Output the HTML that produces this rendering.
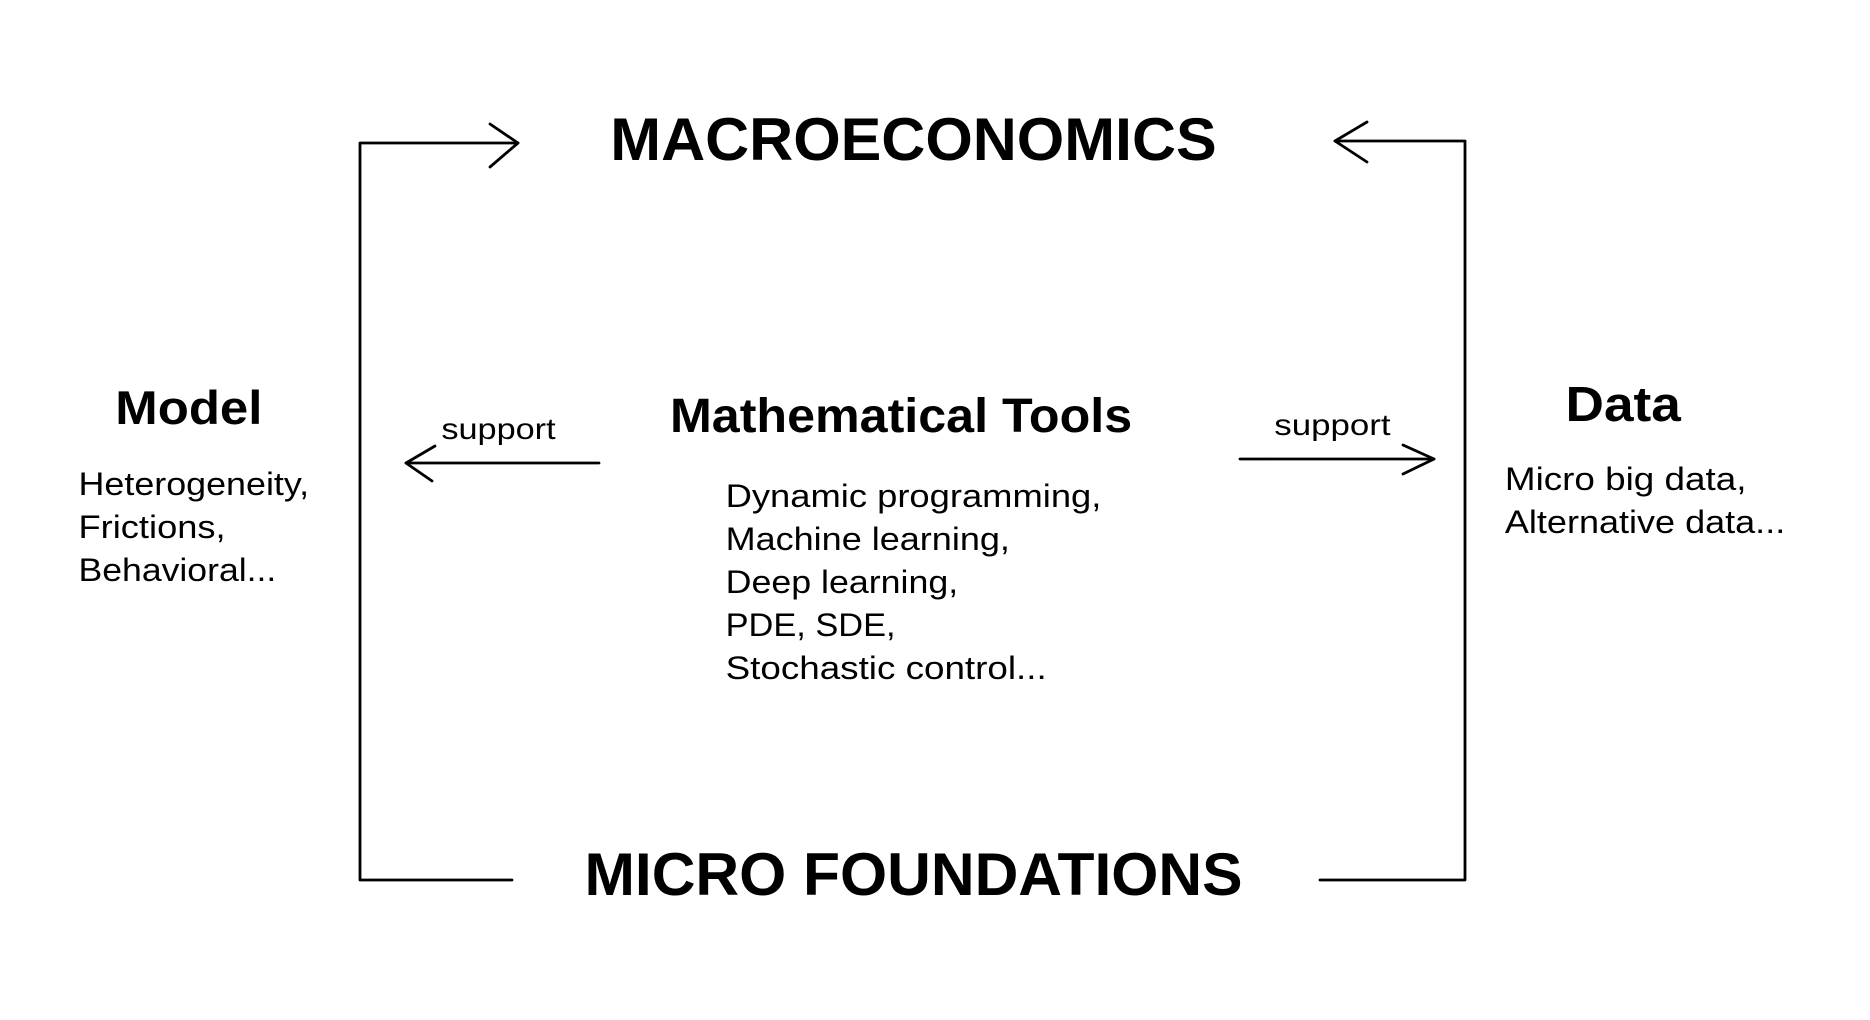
<!DOCTYPE html>
<html><head><meta charset="utf-8"><style>
html,body{margin:0;padding:0;background:#fff;}
svg{display:block;}
text{font-family:"Liberation Sans",Arial,sans-serif;fill:#000;}
.b{font-weight:bold;}
</style></head><body>
<svg width="1870" height="1020" viewBox="0 0 1870 1020" xmlns="http://www.w3.org/2000/svg">
<g fill="none" stroke="#000" stroke-width="2.8" stroke-linecap="round" stroke-linejoin="round">
<polyline points="512,880 360,880 360,143 518,143"/>
<polyline points="490,124 518,143 490,167"/>
<polyline points="1320,880 1465,880 1465,141 1335,141"/>
<polyline points="1367,122 1335,141 1367,162"/>
<line x1="599" y1="463" x2="406" y2="463"/>
<polyline points="435,446 406,463 432,481"/>
<line x1="1240" y1="459" x2="1434" y2="459"/>
<polyline points="1403,445 1434,459 1403,474"/>
</g>
<g transform="scale(0.994,1)">
<text class="b" x="614" y="160" font-size="60" textLength="610" lengthAdjust="spacingAndGlyphs">MACROECONOMICS</text>
<text class="b" x="588" y="895" font-size="60" textLength="662" lengthAdjust="spacingAndGlyphs">MICRO FOUNDATIONS</text>
<text class="b" x="116" y="424" font-size="47" textLength="148" lengthAdjust="spacingAndGlyphs">Model</text>
<text class="b" x="674" y="432" font-size="48" textLength="465" lengthAdjust="spacingAndGlyphs">Mathematical Tools</text>
<text class="b" x="1575" y="421" font-size="49" textLength="116" lengthAdjust="spacingAndGlyphs">Data</text>
<text x="444" y="439" font-size="30" textLength="115" lengthAdjust="spacingAndGlyphs">support</text>
<text x="1282" y="435" font-size="30" textLength="117" lengthAdjust="spacingAndGlyphs">support</text>
<g font-size="32">
<text x="79" y="495" textLength="232" lengthAdjust="spacingAndGlyphs">Heterogeneity,</text>
<text x="79" y="538" textLength="148" lengthAdjust="spacingAndGlyphs">Frictions,</text>
<text x="79" y="581" textLength="199" lengthAdjust="spacingAndGlyphs">Behavioral...</text>
<text x="730" y="507" textLength="378" lengthAdjust="spacingAndGlyphs">Dynamic programming,</text>
<text x="730" y="550" textLength="286" lengthAdjust="spacingAndGlyphs">Machine learning,</text>
<text x="730" y="593" textLength="234" lengthAdjust="spacingAndGlyphs">Deep learning,</text>
<text x="730" y="636" textLength="171" lengthAdjust="spacingAndGlyphs">PDE, SDE,</text>
<text x="730" y="679" textLength="323" lengthAdjust="spacingAndGlyphs">Stochastic control...</text>
<text x="1514" y="490" textLength="243" lengthAdjust="spacingAndGlyphs">Micro big data,</text>
<text x="1514" y="533" textLength="282" lengthAdjust="spacingAndGlyphs">Alternative data...</text>
</g>
</g>
</svg>
</body></html>
